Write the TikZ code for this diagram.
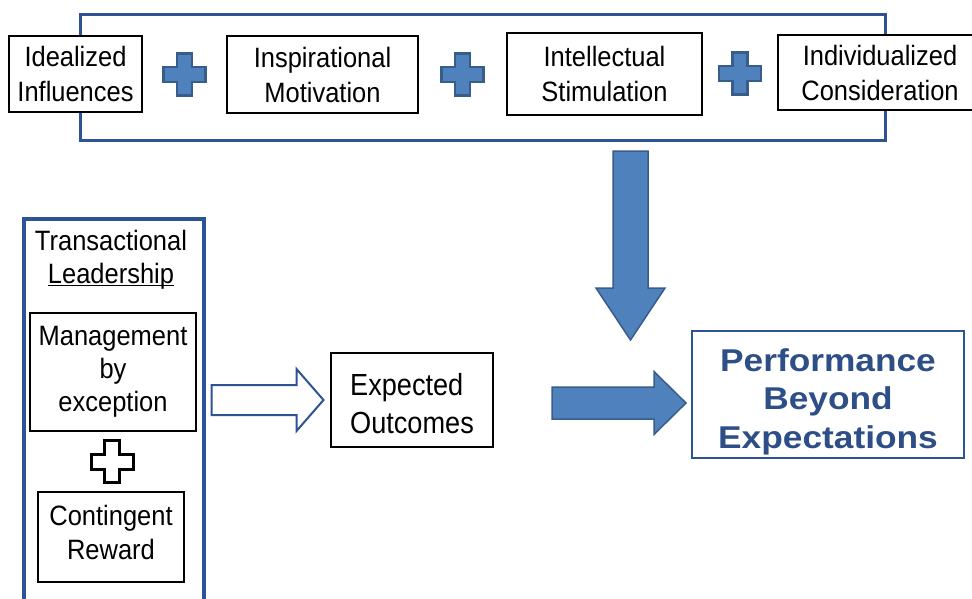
\documentclass[tikz,border=0pt]{standalone}
\usepackage{fontspec}
\setmainfont[FakeStretch=0.91]{Liberation Sans}
\newfontfamily\perffont[FakeStretch=1.12]{Liberation Sans}
\newfontfamily\expfont[FakeStretch=0.89]{Liberation Sans}
\usetikzlibrary{calc}
\definecolor{framecol}{HTML}{2C5494}
\definecolor{arrowfill}{HTML}{4F81BD}
\definecolor{arrowline}{HTML}{385D8A}
\definecolor{perfcol}{HTML}{2D4E86}

\begin{document}
\begin{tikzpicture}[x=1pt,y=-1pt,
  box/.style={draw=black,line width=1.3pt,fill=white,inner sep=0pt,align=center,font=\fontsize{28}{35}\selectfont},
  bluearrow/.style={fill=arrowfill,draw=arrowline,line width=1.5pt,line join=miter},
  plussign/.style={fill=arrowfill,draw=arrowline,line width=2.5pt}]
\clip (0,0) rectangle (972,598);
\fill[white] (0,0) rectangle (972,598);

% transformational leadership
\node[draw=framecol,line width=3pt,inner sep=0pt,minimum width=805pt,minimum height=125.5pt] (tframe) at (482.5,77.25) {};
\node[box,minimum width=133pt,minimum height=76pt] (ideal) at (75.5,74) {Idealized\\Influences};
\node[box,minimum width=191pt,minimum height=77pt] (inspir) at (322.5,74.5) {Inspirational\\Motivation};
\node[box,minimum width=195pt,minimum height=82pt] (intel) at (604.5,74) {Intellectual\\Stimulation};
\node[box,minimum width=204pt,minimum height=75pt] (indiv) at (880,72.5) {Individualized\\Consideration};
\foreach \a/\b in {ideal/inspir,inspir/intel,intel/indiv} {
\draw[plussign] ($(\a.east)!0.5!(\b.west)$) ++(-7.5,-21) -- ++(15,0) -- ++(0,13.5) -- ++(13.5,0) -- ++(0,15) -- ++(-13.5,0) -- ++(0,13.5) -- ++(-15,0) -- ++(0,-13.5) -- ++(-13.5,0) -- ++(0,-15) -- ++(13.5,0) -- cycle;
}

% transactional leadership
\node[draw=framecol,line width=3.5pt,inner sep=0pt,minimum width=180pt,minimum height=400pt,anchor=north west] (trans) at (22,217) {};
\node[align=center,font=\fontsize{28}{33}\selectfont] (trtitle) at (111,258) {Transactional\\\underline{\smash{Leadership}}};
\node[box,line width=1.8pt,font=\fontsize{28}{33}\selectfont,minimum width=166pt,minimum height=118pt] (mbe) at (113,372) {Management\\by\\exception};
\node[box,line width=1.8pt,minimum width=146pt,minimum height=90pt] (cr) at (111,537) {};
\node[align=center,font=\fontsize{28}{34}\selectfont] (crtext) at ([yshift=5pt]cr.center) {Contingent\\Reward};
\draw[black,line width=3pt,fill=white] ($(mbe.south)!0.5!(cr.north)$) ++(-7.5,-21) -- ++(15,0) -- ++(0,13.5) -- ++(13.5,0) -- ++(0,15) -- ++(-13.5,0) -- ++(0,13.5) -- ++(-15,0) -- ++(0,-13.5) -- ++(-13.5,0) -- ++(0,-15) -- ++(13.5,0) -- cycle;

% outcomes
\node[box,line width=2.5pt,minimum width=162pt,minimum height=94pt] (exp) at (412,400) {};
\node[align=left,font=\expfont\fontsize{30.5}{38}\selectfont] (exptext) at ([yshift=-4pt]exp.center) {Expected\\Outcomes};
\node[box,draw=framecol,line width=2.5pt,minimum width=272pt,minimum height=127pt] (perf) at (828,394.5) {};
\node[align=center,text=perfcol,font=\perffont\bfseries\fontsize{31.5}{38.5}\selectfont] (perftext) at ([yshift=-7pt]perf.center) {Performance\\Beyond\\Expectations};

% block arrows
\coordinate (htail) at ([xshift=6pt]trans.east |- exp.center);
\draw[draw=framecol,line width=2pt,fill=white,line join=miter] (htail) ++(0,-15) -- ++(85,0) -- ++(0,-16) -- ++(27,31) -- ++(-27,31) -- ++(0,-16) -- ++(-85,0) -- cycle;
\coordinate (dtail) at (630.5,151);
\draw[bluearrow] (dtail) ++(-17.5,0) -- ++(35,0) -- ++(0,137) -- ++(17,0) -- ++(-34.5,52) -- ++(-34.5,-52) -- ++(17,0) -- cycle;
\coordinate (rtail) at (552,403);
\draw[bluearrow] (rtail) ++(0,-16) -- ++(102,0) -- ++(0,-15.5) -- ++(32,31.5) -- ++(-32,31.5) -- ++(0,-15.5) -- ++(-102,0) -- cycle;
\end{tikzpicture}
\end{document}
